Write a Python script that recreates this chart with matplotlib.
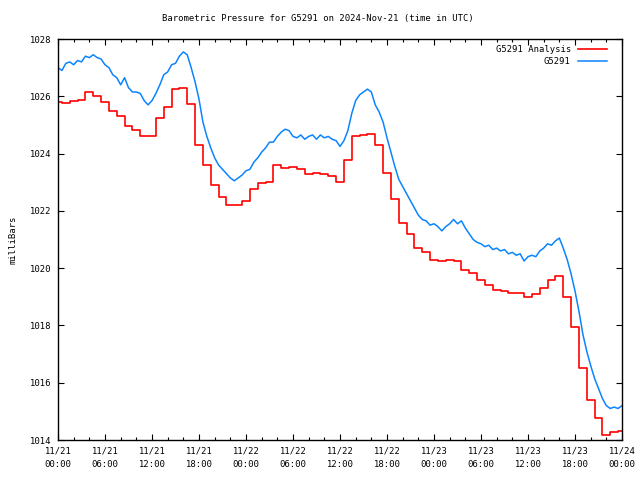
import numpy as np
import matplotlib
matplotlib.use("Agg")
import matplotlib.pyplot as plt
from matplotlib.ticker import MultipleLocator

title = "Barometric Pressure for G5291 on 2024-Nov-21 (time in UTC)"
ylabel = "milliBars"
series_names = ["G5291 Analysis", "G5291"]

# x tick labels (every 6 hours from 11/21 00:00)
xtick_hours = [0, 6, 12, 18, 24, 30, 36, 42, 48, 54, 60, 66, 72]
xtick_labels = ["11/21\n00:00", "11/21\n06:00", "11/21\n12:00", "11/21\n18:00",
                "11/22\n00:00", "11/22\n06:00", "11/22\n12:00", "11/22\n18:00",
                "11/23\n00:00", "11/23\n06:00", "11/23\n12:00", "11/23\n18:00",
                "11/24\n00:00"]
ytick_values = [1014, 1016, 1018, 1020, 1022, 1024, 1026, 1028]

# G5291 observations, every 30 minutes (hours since 11/21 00:00)
blue_hours = [i * 0.5 for i in range(145)]
blue_values = [
    1027.00, 1026.90, 1027.15, 1027.20, 1027.10, 1027.25, 1027.20, 1027.40, 1027.35, 1027.45,
    1027.35, 1027.30, 1027.10, 1027.00, 1026.75, 1026.65, 1026.40, 1026.65, 1026.30, 1026.15,
    1026.15, 1026.10, 1025.85, 1025.70, 1025.85, 1026.10, 1026.40, 1026.75, 1026.85, 1027.10,
    1027.15, 1027.40, 1027.55, 1027.45, 1027.00, 1026.50, 1025.90, 1025.10, 1024.60, 1024.20,
    1023.85, 1023.60, 1023.45, 1023.30, 1023.15, 1023.05, 1023.15, 1023.25, 1023.40, 1023.45,
    1023.70, 1023.85, 1024.05, 1024.20, 1024.40, 1024.40, 1024.60, 1024.75, 1024.85, 1024.80,
    1024.60, 1024.55, 1024.65, 1024.50, 1024.60, 1024.65, 1024.50, 1024.65, 1024.55, 1024.60,
    1024.50, 1024.45, 1024.25, 1024.45, 1024.80, 1025.40, 1025.85, 1026.05, 1026.15, 1026.25,
    1026.15, 1025.70, 1025.45, 1025.10, 1024.55, 1024.05, 1023.55, 1023.10, 1022.85, 1022.60,
    1022.35, 1022.10, 1021.85, 1021.70, 1021.65, 1021.50, 1021.55, 1021.45, 1021.30, 1021.45,
    1021.55, 1021.70, 1021.55, 1021.65, 1021.40, 1021.20, 1021.00, 1020.90, 1020.85, 1020.75,
    1020.80, 1020.65, 1020.70, 1020.60, 1020.65, 1020.50, 1020.55, 1020.45, 1020.50, 1020.25,
    1020.40, 1020.45, 1020.40, 1020.60, 1020.70, 1020.85, 1020.80, 1020.95, 1021.05, 1020.70,
    1020.30, 1019.80, 1019.20, 1018.50, 1017.70, 1017.10, 1016.60, 1016.15, 1015.80, 1015.45,
    1015.20, 1015.10, 1015.15, 1015.10, 1015.20]

# G5291 Analysis (step function)
red_hours = [0] + [i + 0.5 for i in range(72)] + [72]
red_values = [
    1025.80, 1025.75, 1025.85, 1025.88, 1026.16, 1026.02, 1025.80, 1025.50, 1025.30, 1024.95,
    1024.82, 1024.60, 1024.60, 1025.23, 1025.64, 1026.24, 1026.30, 1025.73, 1024.30, 1023.60,
    1022.90, 1022.50, 1022.20, 1022.22, 1022.35, 1022.75, 1022.98, 1023.00, 1023.60, 1023.50,
    1023.52, 1023.45, 1023.30, 1023.32, 1023.30, 1023.20, 1023.00, 1023.78, 1024.61, 1024.65,
    1024.70, 1024.30, 1023.31, 1022.40, 1021.59, 1021.20, 1020.72, 1020.55, 1020.30, 1020.25,
    1020.27, 1020.25, 1019.95, 1019.82, 1019.60, 1019.40, 1019.25, 1019.20, 1019.14, 1019.12,
    1019.00, 1019.10, 1019.30, 1019.59, 1019.72, 1019.00, 1017.93, 1016.50, 1015.39, 1014.76,
    1014.17, 1014.27, 1014.30, 1014.30]

plt.rcParams['font.family'] = ['DejaVu Sans Mono']
fs = 6.4

fig = plt.figure(figsize=(6.4, 4.8), dpi=100)
ax = fig.add_axes([58 / 640, 1 - 440 / 480, (622 - 58) / 640, (440 - 39) / 480])

ax.plot(red_hours, red_values, color='#ff0000', lw=1.2, drawstyle='steps-post', label=series_names[0])
ax.plot(blue_hours, blue_values, color='#0a84ff', lw=1.1, label=series_names[1])

ax.set_xlim(0, 72)
ax.set_ylim(1014, 1028)
ax.set_xticks(xtick_hours)
ax.set_xticklabels(xtick_labels, fontsize=fs, linespacing=1.6)
ax.xaxis.set_minor_locator(MultipleLocator(2))
ax.set_yticks(ytick_values)
ax.set_yticklabels([str(v) for v in ytick_values], fontsize=fs)

ax.tick_params(axis='both', which='major', direction='in', length=4.5, width=0.8,
               top=True, right=True, pad=5)
ax.tick_params(axis='x', which='minor', direction='in', length=2.5, width=0.8, top=True)
for s in ax.spines.values():
    s.set_linewidth(1.0)
    s.set_color('black')

ax.set_ylabel(ylabel, fontsize=fs, labelpad=9)
fig.text(0.497, 1 - 19 / 480, title, ha='center', va='center', fontsize=fs)

leg = ax.legend(loc='upper right', frameon=False, markerfirst=False, fontsize=fs,
                handlelength=3.3, handletextpad=0.8, labelspacing=0.3,
                borderaxespad=0.3, bbox_to_anchor=(0.985, 1.0))

fig.savefig("out.png", dpi=100)
